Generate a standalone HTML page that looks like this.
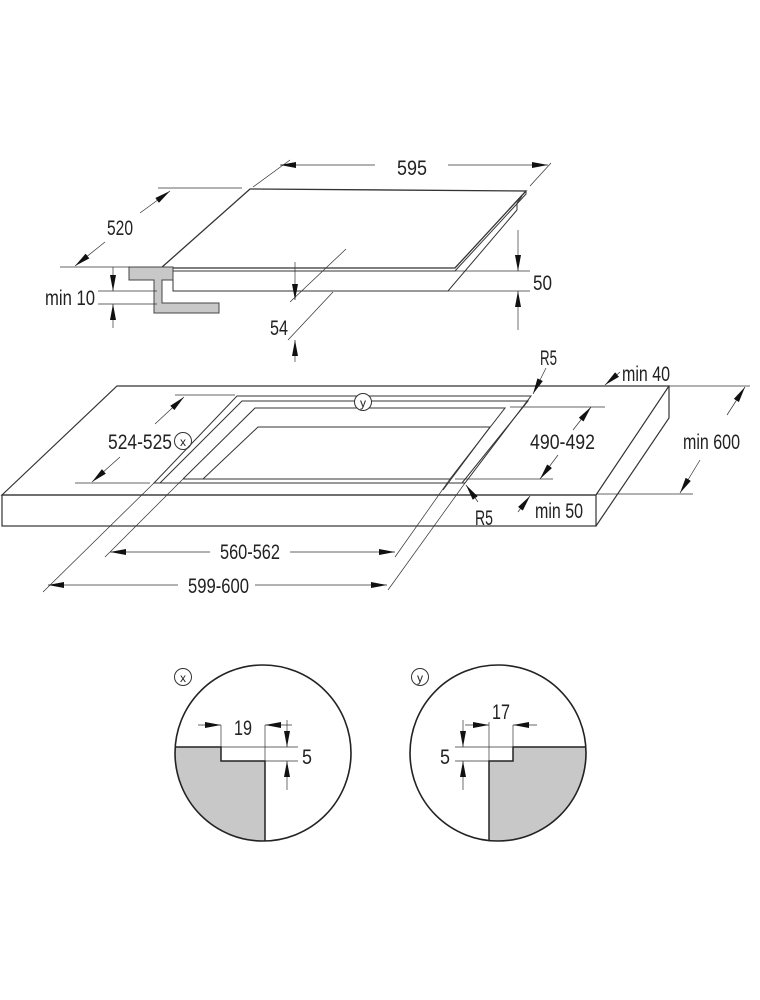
<!DOCTYPE html>
<html><head><meta charset="utf-8"><style>
html,body{margin:0;padding:0;background:#fff;}
svg{display:block}
text{font-family:"Liberation Sans Narrow","Liberation Sans",sans-serif;font-size:21px;fill:#222;}
</style></head><body>
<svg width="760" height="1000" viewBox="0 0 760 1000" xmlns="http://www.w3.org/2000/svg">
<defs>
<marker id="a" markerWidth="16" markerHeight="8" refX="16" refY="4" orient="auto" markerUnits="userSpaceOnUse">
<path d="M0,1 L16,4 L0,7 Z" fill="#111"/></marker>
</defs>
<g stroke="#333" fill="none" stroke-width="1">
<polygon points="250,189 526,191 455,268 161,268" stroke-width="1.3"/>
<polyline points="161,268 161,271 455,271 526,194 526,191"/>
<polyline points="522,196 517,203 517,210"/>
<polyline points="173,271 173,291 448,291 517,210"/>
<polygon points="129,267 173,267 173,280 162,280 162,303 219,303 219,313 154,313 154,280 129,280" fill="#c8c8c8" stroke="#444"/>
<line x1="253" y1="187" x2="290" y2="160" stroke-width="0.7"/>
<line x1="530" y1="186" x2="551" y2="163" stroke-width="0.7"/>
<line x1="375" y1="165" x2="280" y2="165" stroke-width="0.7" marker-end="url(#a)"/>
<line x1="448" y1="165" x2="548" y2="165" stroke-width="0.7" marker-end="url(#a)"/>
<line x1="158" y1="188" x2="242" y2="188" stroke-width="0.7"/>
<line x1="60" y1="267" x2="130" y2="267" stroke-width="0.7"/>
<line x1="140" y1="213" x2="170" y2="191" stroke-width="0.7" marker-end="url(#a)"/>
<line x1="105" y1="242" x2="75" y2="266" stroke-width="0.7" marker-end="url(#a)"/>
<line x1="98" y1="291" x2="157" y2="291" stroke-width="0.7"/>
<line x1="98" y1="304" x2="157" y2="304" stroke-width="0.7"/>
<line x1="113" y1="267" x2="113" y2="291" stroke-width="0.7" marker-end="url(#a)"/>
<line x1="113" y1="328" x2="113" y2="304" stroke-width="0.7" marker-end="url(#a)"/>
<line x1="455" y1="271" x2="530" y2="271" stroke-width="0.7"/>
<line x1="448" y1="291" x2="530" y2="291" stroke-width="0.7"/>
<line x1="518" y1="230" x2="518" y2="271" stroke-width="0.7" marker-end="url(#a)"/>
<line x1="518" y1="330" x2="518" y2="291" stroke-width="0.7" marker-end="url(#a)"/>
<line x1="346" y1="249" x2="290" y2="302" stroke-width="0.7"/>
<line x1="333" y1="292" x2="288" y2="340" stroke-width="0.7"/>
<line x1="295" y1="262" x2="295" y2="300" stroke-width="0.7" marker-end="url(#a)"/>
<line x1="295" y1="362" x2="295" y2="340" stroke-width="0.7" marker-end="url(#a)"/>

<polygon points="117,386 669,386 596,495 2,495" stroke-width="1.2"/>
<rect x="2" y="495" width="594" height="31" stroke-width="1.2"/>
<polyline points="669,386 669,418 596,526" stroke-width="1.2"/>
<polygon points="237,396 531,396 465,483 154,483"/>
<polyline points="160,483 242,401 528,401 462,483"/>
<polyline points="183,479 255,408 505,408 450,479 183,479"/>
<polyline points="203,479 258,427 490,427 443,490"/>
<line x1="175" y1="395" x2="235" y2="395" stroke-width="0.7"/>
<line x1="75" y1="483" x2="150" y2="483" stroke-width="0.7"/>
<line x1="155" y1="424" x2="184" y2="397" stroke-width="0.7" marker-end="url(#a)"/>
<line x1="120" y1="457" x2="92" y2="482" stroke-width="0.7" marker-end="url(#a)"/>
<circle cx="183" cy="441" r="8.5"/>
<circle cx="363" cy="402" r="8.5" fill="#fff"/>
<line x1="510" y1="407" x2="605" y2="407" stroke-width="0.7"/>
<line x1="455" y1="479" x2="553" y2="479" stroke-width="0.7"/>
<line x1="573" y1="430" x2="591" y2="407" stroke-width="0.7" marker-end="url(#a)"/>
<line x1="558" y1="455" x2="540" y2="479" stroke-width="0.7" marker-end="url(#a)"/>
<line x1="669" y1="386" x2="750" y2="386" stroke-width="0.7"/>
<line x1="596" y1="494" x2="693" y2="494" stroke-width="0.7"/>
<line x1="727" y1="415" x2="745" y2="387" stroke-width="0.7" marker-end="url(#a)"/>
<line x1="700" y1="460" x2="680" y2="493" stroke-width="0.7" marker-end="url(#a)"/>
<line x1="620" y1="372" x2="605" y2="385" stroke-width="0.7" marker-end="url(#a)"/>
<line x1="546" y1="368" x2="533" y2="394" stroke-width="0.7" marker-end="url(#a)"/>
<line x1="478" y1="502" x2="466" y2="485" stroke-width="0.7" marker-end="url(#a)"/>
<line x1="518" y1="512" x2="530" y2="496" stroke-width="0.7" marker-end="url(#a)"/>
<line x1="154" y1="483" x2="43" y2="592" stroke-width="0.7"/>
<line x1="183" y1="479" x2="105" y2="557" stroke-width="0.7"/>
<line x1="465" y1="483" x2="388" y2="590" stroke-width="0.7"/>
<line x1="450" y1="479" x2="395" y2="557" stroke-width="0.7"/>
<line x1="210" y1="552" x2="110" y2="552" stroke-width="0.7" marker-end="url(#a)"/>
<line x1="290" y1="552" x2="395" y2="552" stroke-width="0.7" marker-end="url(#a)"/>
<line x1="178" y1="585" x2="48" y2="585" stroke-width="0.7" marker-end="url(#a)"/>
<line x1="255" y1="585" x2="387" y2="585" stroke-width="0.7" marker-end="url(#a)"/>

<defs><clipPath id="cx"><circle cx="263" cy="753" r="88"/></clipPath>
<clipPath id="cy"><circle cx="498" cy="753" r="88"/></clipPath></defs>
<polygon clip-path="url(#cx)" points="170,747 221,747 221,761 265,761 265,850 170,850" fill="#c8c8c8" stroke="#222" stroke-width="1.5"/>
<circle cx="263" cy="753" r="88" stroke="#222" stroke-width="1.6"/>
<line x1="221" y1="747" x2="298" y2="747" stroke-width="0.7"/>
<line x1="265" y1="761" x2="298" y2="761" stroke-width="0.7"/>
<line x1="221" y1="725" x2="221" y2="747" stroke-width="0.7"/>
<line x1="265" y1="725" x2="265" y2="761" stroke-width="0.7"/>
<line x1="198" y1="725" x2="221" y2="725" stroke-width="0.7" marker-end="url(#a)"/>
<line x1="292" y1="725" x2="265" y2="725" stroke-width="0.7" marker-end="url(#a)"/>
<line x1="287" y1="720" x2="287" y2="747" stroke-width="0.7" marker-end="url(#a)"/>
<line x1="287" y1="790" x2="287" y2="761" stroke-width="0.7" marker-end="url(#a)"/>
<circle cx="183" cy="677" r="8.5"/>
<polygon clip-path="url(#cy)" points="590,747 513,747 513,761 489,761 489,850 590,850" fill="#c8c8c8" stroke="#222" stroke-width="1.5"/>
<circle cx="498" cy="753" r="88" stroke="#222" stroke-width="1.6"/>
<line x1="455" y1="747" x2="513" y2="747" stroke-width="0.7"/>
<line x1="455" y1="761" x2="489" y2="761" stroke-width="0.7"/>
<line x1="489" y1="722" x2="489" y2="761" stroke-width="0.7"/>
<line x1="513" y1="725" x2="513" y2="747" stroke-width="0.7"/>
<line x1="465" y1="725" x2="489" y2="725" stroke-width="0.7" marker-end="url(#a)"/>
<line x1="537" y1="725" x2="513" y2="725" stroke-width="0.7" marker-end="url(#a)"/>
<line x1="463" y1="720" x2="463" y2="747" stroke-width="0.7" marker-end="url(#a)"/>
<line x1="463" y1="790" x2="463" y2="761" stroke-width="0.7" marker-end="url(#a)"/>
<circle cx="420" cy="677" r="8.5"/>
</g>
<g>
<text x="397" y="175" textLength="30" lengthAdjust="spacingAndGlyphs">595</text>
<text x="107" y="235" textLength="26" lengthAdjust="spacingAndGlyphs">520</text>
<text x="45" y="305" textLength="50" lengthAdjust="spacingAndGlyphs">min 10</text>
<text x="533" y="290" textLength="19" lengthAdjust="spacingAndGlyphs">50</text>
<text x="270" y="335" textLength="18" lengthAdjust="spacingAndGlyphs">54</text>
<text x="540" y="365" textLength="17" lengthAdjust="spacingAndGlyphs">R5</text>
<text x="622" y="381" textLength="48" lengthAdjust="spacingAndGlyphs">min 40</text>
<text x="108" y="449" textLength="64" lengthAdjust="spacingAndGlyphs">524-525</text>
<text x="183" y="446" text-anchor="middle" style="font-size:12px">x</text>
<text x="363" y="407" text-anchor="middle" style="font-size:12px">y</text>
<text x="530" y="449" textLength="65" lengthAdjust="spacingAndGlyphs">490-492</text>
<text x="683" y="449" textLength="57" lengthAdjust="spacingAndGlyphs">min 600</text>
<text x="475" y="525" textLength="18" lengthAdjust="spacingAndGlyphs">R5</text>
<text x="535" y="518" textLength="48" lengthAdjust="spacingAndGlyphs">min 50</text>
<text x="220" y="559" textLength="60" lengthAdjust="spacingAndGlyphs">560-562</text>
<text x="188" y="593" textLength="61" lengthAdjust="spacingAndGlyphs">599-600</text>
<text x="234" y="735" textLength="18" lengthAdjust="spacingAndGlyphs">19</text>
<text x="302" y="764" textLength="10" lengthAdjust="spacingAndGlyphs">5</text>
<text x="183" y="682" text-anchor="middle" style="font-size:12px">x</text>
<text x="492" y="719" textLength="18" lengthAdjust="spacingAndGlyphs">17</text>
<text x="440" y="764" textLength="10" lengthAdjust="spacingAndGlyphs">5</text>
<text x="420" y="682" text-anchor="middle" style="font-size:12px">y</text>
</g>
</svg>
</body></html>
